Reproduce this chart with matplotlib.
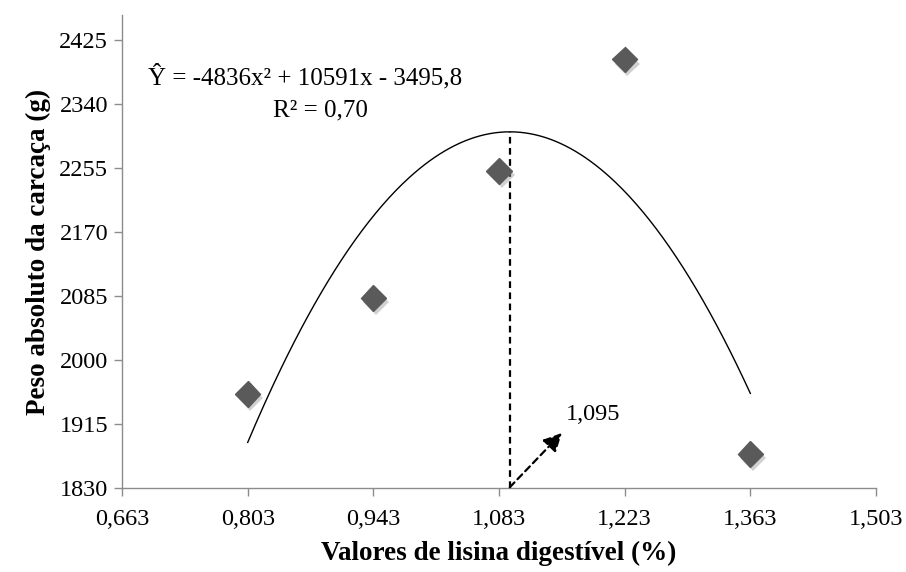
import numpy as np
import matplotlib
matplotlib.use("Agg")
import matplotlib.pyplot as plt
from matplotlib import patheffects as pe

# Observed data
lisina = [0.803, 0.943, 1.083, 1.223, 1.363]
peso = [1955, 2082, 2251, 2399, 1875]

# Fitted quadratic coefficients: Y = a x^2 + b x + c
a, b, c = -4836, 10591, -3495.8

x_ticks = [0.663, 0.803, 0.943, 1.083, 1.223, 1.363, 1.503]
y_ticks = [1830, 1915, 2000, 2085, 2170, 2255, 2340, 2425]

plt.rcParams["font.family"] = ["Liberation Serif", "DejaVu Serif"]

fig = plt.figure(figsize=(9.06, 5.72), dpi=100)
ax = fig.add_axes([0.1347, 0.1469, 0.9669 - 0.1347, 0.9738 - 0.1469])

# Regression curve over the range of the data
xs = np.linspace(min(lisina), max(lisina), 300)
ax.plot(xs, a * xs**2 + b * xs + c, color="black", lw=1.0, zorder=2)

# Observed means as shaded diamonds
ax.plot(lisina, peso, linestyle="none", marker="D", ms=13, color="#5a5a5a",
        mec="#5a5a5a", zorder=3,
        path_effects=[pe.SimplePatchShadow(offset=(2, -3), shadow_rgbFace="#9a9a9a", alpha=0.45),
                      pe.Normal()])

# Vertex of the parabola
x_opt = -b / (2 * a)
y_opt = a * x_opt**2 + b * x_opt + c
ax.plot([x_opt, x_opt], [1830, y_opt], color="black", lw=1.6, ls=(0, (3, 2)), zorder=2)
ax.annotate("", xy=(x_opt + 0.058, 1903), xytext=(x_opt, 1831),
            arrowprops=dict(arrowstyle="-|>,head_length=1.1,head_width=0.55",
                            color="black", lw=1.6, ls=(0, (3, 2)),
                            shrinkA=0, shrinkB=0))
ax.text(x_opt + 0.062, 1913, "1,095", fontsize=17.5, ha="left", va="bottom")

# Equation and coefficient of determination
ax.text(0.692, 2376, "Ŷ = -4836x² + 10591x - 3495,8", fontsize=18, ha="left", va="center")
ax.text(0.884, 2331, "R² = 0,70", fontsize=18, ha="center", va="center")

ax.set_xlim(0.663, 1.503)
ax.set_ylim(1830, 2458)
ax.set_xticks(x_ticks)
ax.set_xticklabels([f"{v:.3f}".replace(".", ",") for v in x_ticks])
ax.set_yticks(y_ticks)
ax.set_yticklabels([str(v) for v in y_ticks])

for side in ("top", "right"):
    ax.spines[side].set_visible(False)
for side in ("left", "bottom"):
    ax.spines[side].set_color("#8c8c8c")
    ax.spines[side].set_linewidth(1.0)
ax.tick_params(axis="both", direction="out", length=6, width=1.0, color="#8c8c8c",
               labelsize=17.5, labelcolor="black")
ax.tick_params(axis="x", pad=9)
ax.tick_params(axis="y", pad=4)

ax.set_xlabel("Valores de lisina digestível (%)", fontsize=19.5, fontweight="bold", labelpad=8)
ax.set_ylabel("Peso absoluto da carcaça (g)", fontsize=19.5, fontweight="bold", labelpad=6)

fig.savefig("out.png", dpi=100)
